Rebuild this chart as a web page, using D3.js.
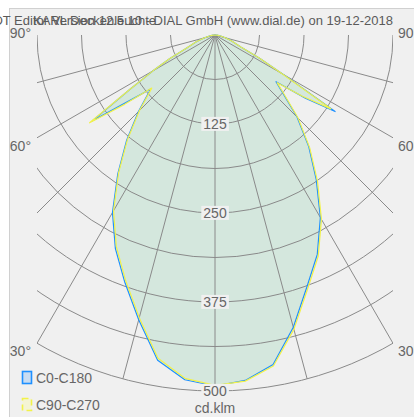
<!DOCTYPE html>
<html>
<head>
<meta charset="utf-8">
<script src="https://cdn.jsdelivr.net/npm/d3@7"></script>
<style>
  body{margin:0;background:#fff;font-family:'Liberation Sans',Arial,sans-serif}
  text{fill:#666;font-size:14px}
</style>
</head>
<body>
<div id="chart"></div>
<script>
// gamma angles (deg) and luminous intensity (cd/klm) for each C half-plane
var gamma = [0,5,10,15,20,25,30,35,40,45,50,52.5,55,57.5,60,62.5,65,70,75,80,85,90]
var c0   = [493,487,470,425,377,340,296,248,205,163,122,108,155,200,112,70,40,25,15,8,3,0]
var c180 = [493,486,464,414,370,331,288,238,193,152,118,152,210,140,100,72,45,28,16,8,3,0]
var c90  = [492,488,472,428,380,343,299,251,207,165,124,110,150,193,110,70,40,25,15,8,3,0]
var c270 = [492,484,461,411,367,328,285,236,191,150,116,160,215,141,100,72,45,28,16,8,3,0]

var ringVals = [62.5,125,187.5,250,312.5,375,437.5,500]
var ringLabels = [125,250,375,500]
var spokes = [-75,-60,-45,-30,-15,0,15,30,45,60,75]
var angleLabels = [90,60,30]
var series = ['C0-C180','C90-C270']
var title = 'LDT Editor Version 12.5.10 - DIAL GmbH (www.dial.de) on 19-12-2018'
var subTitle = 'KARL Deckenleuchte'

var wid = 414, hgt = 417
var cx = 215, cy = 35
var rad = d3.scaleLinear().domain([0,500]).range([0,356])
var half = rad(250) // grid is clipped left/right at this distance

var svg = d3.select('#chart').append('svg')
  .attr('width',wid).attr('height',hgt)

//panel background
svg.append('rect')
  .attr('x',9.5).attr('y',8.5)
  .attr('width',430).attr('height',430)
  .style('fill','#f0f0f0').style('stroke','#d0d0d0')

svg.append('defs').append('clipPath').attr('id','grid_clip')
  .append('rect')
  .attr('x',-half).attr('y',-cy)
  .attr('width',half*2).attr('height',hgt)

var plot = svg.append('g').attr('transform','translate('+cx+','+cy+')')

//turn two half planes into one list of points, left side first
function curve(left,right){
  var pts = []
  gamma.forEach(function(g,i){ pts.unshift({g:-g,v:left[i]}) })
  gamma.forEach(function(g,i){ if(i>0) pts.push({g:g,v:right[i]}) })
  return pts
}
var line = d3.lineRadial()
  .angle(function(d){ return Math.PI - d.g*Math.PI/180 })
  .radius(function(d){ return rad(d.v) })

var curves = [
  {name:series[0],pts:curve(c180,c0),clr:'#1e90ff'},
  {name:series[1],pts:curve(c270,c90),clr:'#f2f24a'}
]

//fills first so the grid sits on top
plot.selectAll('path.fill').data(curves).enter()
  .append('path').attr('class','fill')
  .attr('d',function(d){ return line(d.pts)+'Z' })
  .style('fill','#d4e7dd').style('stroke','none')

var grid = plot.append('g').attr('clip-path','url(#grid_clip)')
  .style('fill','none').style('stroke','#8a8a8a').style('stroke-width',1)

grid.selectAll('path.ring').data(ringVals).enter()
  .append('path').attr('class','ring')
  .attr('d',function(v){
    var p = d3.path()
    p.moveTo(rad(v),0)
    p.arc(0,0,rad(v),0,Math.PI)
    return p.toString()
  })

grid.selectAll('line.spoke').data(spokes).enter()
  .append('line').attr('class','spoke')
  .attr('x1',0).attr('y1',0)
  .attr('x2',function(a){ return rad(500)*Math.sin(a*Math.PI/180) })
  .attr('y2',function(a){ return rad(500)*Math.cos(a*Math.PI/180) })

plot.selectAll('path.curve').data(curves).enter()
  .append('path').attr('class','curve')
  .attr('d',function(d){ return line(d.pts)+'Z' })
  .style('fill','none')
  .style('stroke',function(d){ return d.clr })
  .style('stroke-width',1.2)
  .style('stroke-linejoin','round')

//value labels on the 0 degree axis, with a patch of background behind
var vl = plot.selectAll('g.vlab').data(ringLabels).enter()
  .append('g').attr('class','vlab')
  .attr('transform',function(v){ return 'translate(0,'+rad(v)+')' })
vl.append('rect')
vl.append('text')
  .attr('text-anchor','middle').attr('dy','0.35em')
  .text(function(v){ return v })
vl.each(function(){
  var b = d3.select(this).select('text').node().getBBox()
  d3.select(this).select('rect')
    .attr('x',b.x-2).attr('y',b.y+1)
    .attr('width',b.width+4).attr('height',b.height-2)
    .style('fill','#f0f0f0')
})

//angle labels where the spokes leave the grid
function spokeEnd(a){
  var t = a*Math.PI/180
  var len = Math.min(rad(500), half/Math.sin(t))
  return len*Math.cos(t)
}
angleLabels.forEach(function(a){
  var y = spokeEnd(a) + (a==90 ? 3 : 13)
  plot.append('text').attr('x',-half-6).attr('y',y)
    .attr('text-anchor','end').text(a+'°')
  plot.append('text').attr('x',half+5).attr('y',y)
    .attr('text-anchor','start').text(a+'°')
})

plot.append('text')
  .attr('x',0).attr('y',rad(500)+22)
  .attr('text-anchor','middle').text('cd.klm')

//legend
var leg = svg.append('g').attr('transform','translate(22,371)')
var li = leg.selectAll('g').data(curves).enter().append('g')
  .attr('transform',function(d,i){ return 'translate(0,'+(i*27)+')' })
li.append('rect')
  .attr('x',0.5).attr('y',0.5).attr('width',9).attr('height',12)
  .style('fill',function(d,i){ return i==0 ? '#c8dcf2' : '#f4f4d4' })
  .style('stroke',function(d){ return d.clr })
  .style('stroke-width',1.6)
  .style('stroke-dasharray',function(d,i){ return i==0 ? null : '6,4' })
li.append('text')
  .attr('x',14).attr('y',12)
  .text(function(d){ return d.name })

//title, two overlapping strings as in the source image
svg.append('text')
  .attr('x',393).attr('y',25)
  .attr('text-anchor','end')
  .style('fill','#5a5a5a').style('font-size','13px')
  .text(title)
svg.append('text')
  .attr('x',33).attr('y',25)
  .style('fill','#5a5a5a').style('font-size','13px')
  .text(subTitle)
</script>
</body>
</html>
